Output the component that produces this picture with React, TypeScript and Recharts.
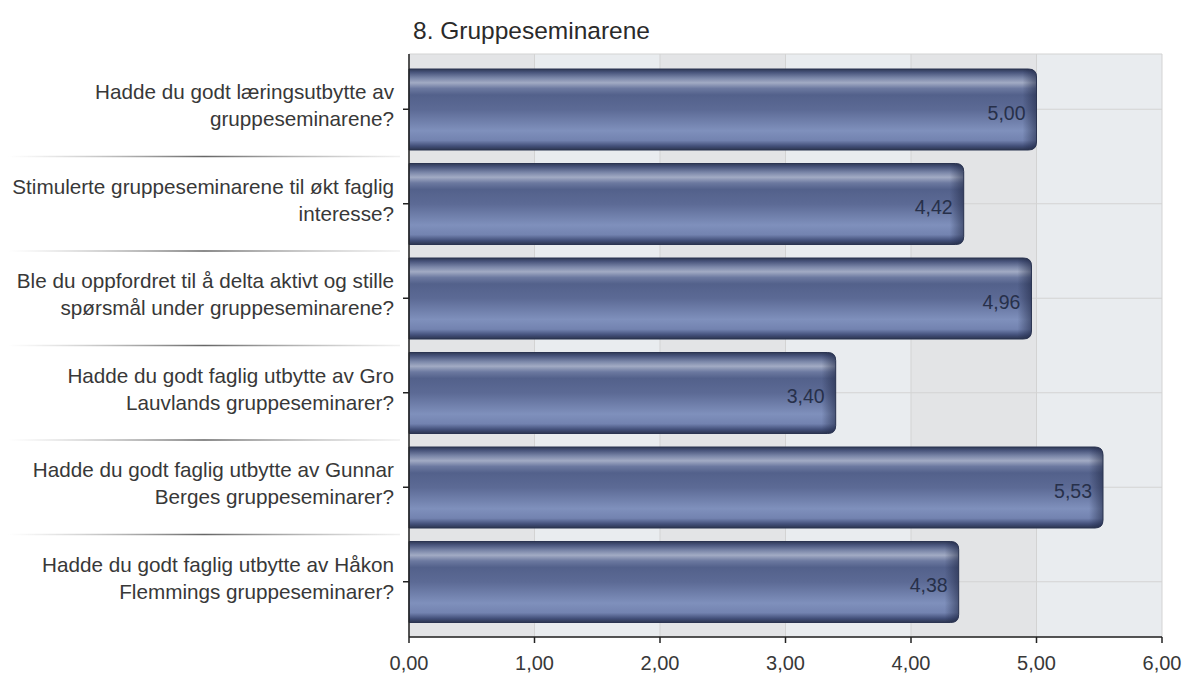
import React from 'react';
import {
  BarChart,
  Bar,
  XAxis,
  YAxis,
  CartesianGrid,
  LabelList,
} from 'recharts';

// Question texts, split the way the reference wraps them
const questionLines: string[][] = [
  ['Hadde du godt læringsutbytte av', 'gruppeseminarene?'],
  ['Stimulerte gruppeseminarene til økt faglig', 'interesse?'],
  ['Ble du oppfordret til å delta aktivt og stille', 'spørsmål under gruppeseminarene?'],
  ['Hadde du godt faglig utbytte av Gro', 'Lauvlands gruppeseminarer?'],
  ['Hadde du godt faglig utbytte av Gunnar', 'Berges gruppeseminarer?'],
  ['Hadde du godt faglig utbytte av Håkon', 'Flemmings gruppeseminarer?'],
];
const questions = questionLines.map((l) => l.join(' '));
const averages = [5.0, 4.42, 4.96, 3.4, 5.53, 4.38];
const xTicks = [0, 1, 2, 3, 4, 5, 6];
const title = '8. Gruppeseminarene';

const data = questions.map((q, i) => ({ question: q, value: averages[i] }));

const FONT = '"Liberation Sans", Arial, Helvetica, sans-serif';
const CHART_W = 1184;
const CHART_H = 680;
const MARGIN = { top: 54, right: 22, bottom: 0, left: 0 };
const Y_AXIS_W = 409;
const X_AXIS_H = 43;
const CAT_PAD = 8;
const PLOT_H = CHART_H - MARGIN.top - MARGIN.bottom - X_AXIS_H;
const BAND = (PLOT_H - CAT_PAD * 2) / questions.length;

const fmt = (v: number) => v.toFixed(2).replace('.', ',');

const QuestionTick = (props: any) => {
  const { y, payload, index } = props;
  const i = questions.indexOf(payload.value);
  const lines = questionLines[i] || [String(payload.value)];
  const gid = `sep-${index}`;
  return (
    <g>
      {i < questions.length - 1 && (
        <>
          <defs>
            <linearGradient id={gid} x1="0" y1="0" x2="1" y2="0">
              <stop offset="0" stopColor="#9a9a9a" stopOpacity={0} />
              <stop offset="0.5" stopColor="#555" stopOpacity={0.9} />
              <stop offset="1" stopColor="#9a9a9a" stopOpacity={0.15} />
            </linearGradient>
          </defs>
          <rect x={8} y={y + BAND / 2 - 0.75} width={392} height={1.5} fill={`url(#${gid})`} />
        </>
      )}
      <text x={394} y={y - 10} textAnchor="end" fontSize={20.7} fill="#383838" fontFamily={FONT}>
        {lines[0]}
      </text>
      {lines[1] && (
        <text x={394} y={y + 17} textAnchor="end" fontSize={20.7} fill="#383838" fontFamily={FONT}>
          {lines[1]}
        </text>
      )}
    </g>
  );
};

const GlossyBar = (props: any) => {
  const { x, y, width, height, index } = props;
  if (!width || width <= 0) return null;
  const r = Math.min(8, width / 2);
  const d = `M${x},${y} H${x + width - r} Q${x + width},${y} ${x + width},${y + r} V${y + height - r} Q${x + width},${y + height} ${x + width - r},${y + height} H${x} Z`;
  const vg = `bar-v-${index}`;
  const hg = `bar-h-${index}`;
  const edge = Math.max(0, (width - 14) / width);
  return (
    <g>
      <defs>
        <linearGradient id={vg} x1="0" y1="0" x2="0" y2="1">
          <stop offset="0" stopColor="#2f3955" />
          <stop offset="0.04" stopColor="#47537a" />
          <stop offset="0.11" stopColor="#7a86a8" />
          <stop offset="0.17" stopColor="#a2abc4" />
          <stop offset="0.24" stopColor="#6c79a0" />
          <stop offset="0.32" stopColor="#53618b" />
          <stop offset="0.5" stopColor="#5c6a95" />
          <stop offset="0.76" stopColor="#7f90bc" />
          <stop offset="0.88" stopColor="#7383b0" />
          <stop offset="0.95" stopColor="#43507a" />
          <stop offset="1" stopColor="#2c3550" />
        </linearGradient>
        <linearGradient id={hg} x1="0" y1="0" x2="1" y2="0">
          <stop offset="0" stopColor="#1c2440" stopOpacity={0} />
          <stop offset={edge} stopColor="#1c2440" stopOpacity={0} />
          <stop offset="1" stopColor="#1c2440" stopOpacity={0.55} />
        </linearGradient>
      </defs>
      <path d={d} fill={`url(#${vg})`} />
      <path d={d} fill={`url(#${hg})`} />
      <path d={d} fill="none" stroke="#2b3451" strokeWidth={1} />
    </g>
  );
};

const ValueLabel = (props: any) => {
  const { x, y, width, height, value } = props;
  return (
    <text
      x={x + width - 11}
      y={y + height / 2 + 3}
      textAnchor="end"
      dominantBaseline="central"
      fontSize={19.5}
      fill="#27304a"
      fontFamily={FONT}
    >
      {fmt(Number(value))}
    </text>
  );
};

export default function App() {
  return (
    <div style={{ position: 'absolute', left: 0, top: 0, width: CHART_W, height: CHART_H, background: '#fff' }}>
      <BarChart
        width={CHART_W}
        height={CHART_H}
        data={data}
        layout="vertical"
        margin={MARGIN}
        barSize={81}
      >
        <CartesianGrid
          stroke="#d3d3d3"
          verticalFill={['#e3e4e6', '#e9ecef']}
          fillOpacity={1}
        />
        <XAxis
          type="number"
          domain={[0, 6]}
          ticks={xTicks}
          height={X_AXIS_H}
          tickFormatter={fmt}
          tick={{ fontSize: 20, fill: '#383838', fontFamily: FONT }}
          tickSize={6}
          tickMargin={13}
          axisLine={{ stroke: '#222', strokeWidth: 1.5 }}
          tickLine={{ stroke: '#222', strokeWidth: 1.5 }}
        />
        {/* plain gray frame on the top and right of the plot */}
        <XAxis
          xAxisId="frame"
          orientation="top"
          type="number"
          domain={[0, 6]}
          height={0}
          tick={false}
          tickLine={false}
          axisLine={{ stroke: '#8a8a8a' }}
        />
        <YAxis
          yAxisId="frame"
          orientation="right"
          type="number"
          width={0}
          tick={false}
          tickLine={false}
          axisLine={{ stroke: '#8a8a8a' }}
        />
        <YAxis
          type="category"
          dataKey="question"
          width={Y_AXIS_W}
          padding={{ top: CAT_PAD, bottom: CAT_PAD }}
          tick={<QuestionTick />}
          tickSize={6}
          axisLine={{ stroke: '#222', strokeWidth: 1.5 }}
          tickLine={{ stroke: '#222', strokeWidth: 1.5 }}
          interval={0}
        />
        <Bar dataKey="value" shape={<GlossyBar />} isAnimationActive={false}>
          <LabelList dataKey="value" content={<ValueLabel />} />
        </Bar>
      </BarChart>
      <svg
        width={CHART_W}
        height={50}
        style={{ position: 'absolute', left: 0, top: 0, pointerEvents: 'none' }}
      >
        <text x={413} y={39} fontSize={24.5} fill="#2a2a2a" fontFamily={FONT}>
          {title}
        </text>
      </svg>
    </div>
  );
}
